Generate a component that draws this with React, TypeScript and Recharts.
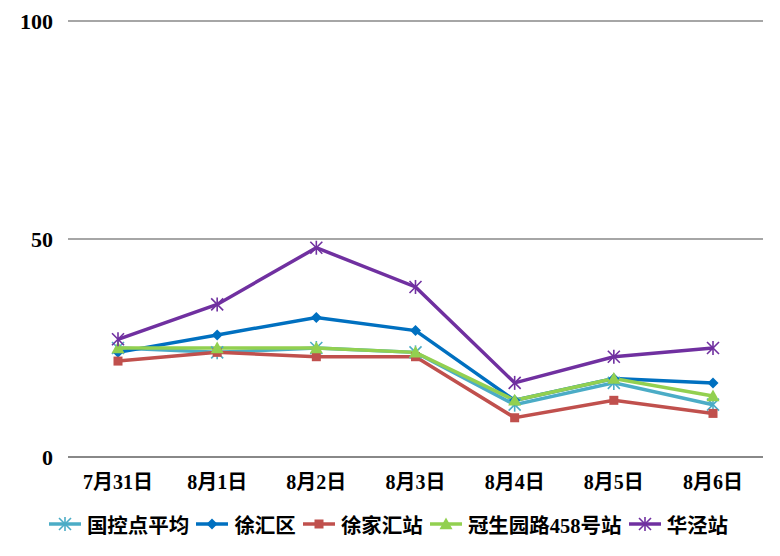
import {
  CartesianGrid,
  Legend,
  Line,
  LineChart,
  XAxis,
  YAxis,
} from "recharts";

const dates = ["7月31日", "8月1日", "8月2日", "8月3日", "8月4日", "8月5日", "8月6日"];
const avgValues = [25, 24, 25, 24, 12, 17, 12];
const xuhuiValues = [24, 28, 32, 29, 13, 18, 17];
const xujiahuiValues = [22, 24, 23, 23, 9, 13, 10];
const guanshengValues = [25, 25, 25, 24, 13, 18, 14];
const huajingValues = [27, 35, 48, 39, 17, 23, 25];
const yTicks = [0, 50, 100];

const FONT = "'Liberation Serif', 'Noto Sans CJK SC', serif";

const series = [
  { key: "avg", name: "国控点平均", color: "#4BACC6", shape: "star" },
  { key: "xuhui", name: "徐汇区", color: "#0070C0", shape: "diamond" },
  { key: "xujiahui", name: "徐家汇站", color: "#C0504D", shape: "square" },
  { key: "guansheng", name: "冠生园路458号站", color: "#92D050", shape: "triangle" },
  { key: "huajing", name: "华泾站", color: "#7030A0", shape: "star" },
];

const data = dates.map((d, i) => ({
  date: d,
  avg: avgValues[i],
  xuhui: xuhuiValues[i],
  xujiahui: xujiahuiValues[i],
  guansheng: guanshengValues[i],
  huajing: huajingValues[i],
}));

const Marker = ({ cx, cy, shape, color }: any) => {
  if (cx == null || cy == null) return null;
  if (shape === "star") {
    const r = 6;
    return (
      <g stroke={color} strokeWidth={1.6}>
        <line x1={cx - r} y1={cy - r} x2={cx + r} y2={cy + r} />
        <line x1={cx - r} y1={cy + r} x2={cx + r} y2={cy - r} />
        <line x1={cx} y1={cy - r - 1} x2={cx} y2={cy + r + 1} />
      </g>
    );
  }
  if (shape === "diamond") {
    const r = 5.5;
    return (
      <polygon
        points={`${cx},${cy - r} ${cx + r},${cy} ${cx},${cy + r} ${cx - r},${cy}`}
        fill={color}
      />
    );
  }
  if (shape === "square") {
    const r = 4.5;
    return <rect x={cx - r} y={cy - r} width={r * 2} height={r * 2} fill={color} />;
  }
  const r = 6.5;
  return (
    <polygon
      points={`${cx},${cy - r} ${cx + r},${cy + r * 0.8} ${cx - r},${cy + r * 0.8}`}
      fill={color}
    />
  );
};

const renderLegend = () => (
  <div
    style={{
      display: "flex",
      justifyContent: "center",
      alignItems: "center",
      height: 30,
      paddingLeft: 14,
      fontFamily: FONT,
      fontWeight: "bold",
      fontSize: 20.5,
      color: "#000",
    }}
  >
    {series.map((s, i) => (
      <div
        key={s.key}
        style={{ display: "flex", alignItems: "center", marginRight: i < series.length - 1 ? 7 : 0 }}
      >
        <svg width={32} height={20} style={{ marginRight: 6 }}>
          <line x1={0} y1={10} x2={32} y2={10} stroke={s.color} strokeWidth={3.5} />
          <Marker cx={16} cy={10} shape={s.shape} color={s.color} />
        </svg>
        <span>{s.name}</span>
      </div>
    ))}
  </div>
);

const App = () => {
  return (
    <div style={{ margin: -8, width: 780, height: 556, background: "#fff" }}>
      <LineChart
        width={780}
        height={556}
        data={data}
        margin={{ top: 21, right: 17, left: 0, bottom: 17 }}
      >
        <CartesianGrid vertical={false} stroke="#888" strokeWidth={1.5} />
        <XAxis
          dataKey="date"
          height={52}
          padding={{ left: 50, right: 50 }}
          axisLine={{ stroke: "#888", strokeWidth: 2 }}
          tickLine={false}
          tickMargin={12}
          tick={{ fill: "#000", fontFamily: FONT, fontWeight: "bold", fontSize: 20 }}
        />
        <YAxis
          width={68}
          domain={[0, 100]}
          ticks={yTicks}
          axisLine={false}
          tickLine={false}
          tickMargin={9}
          tick={{ fill: "#000", fontFamily: FONT, fontWeight: "bold", fontSize: 22 }}
        />
        <Legend verticalAlign="bottom" height={30} content={renderLegend} />
        {series.map((s) => (
          <Line
            key={s.key}
            dataKey={s.key}
            name={s.name}
            stroke={s.color}
            strokeWidth={3.5}
            isAnimationActive={false}
            dot={(p: any) => (
              <Marker key={`${s.key}-${p.index}`} cx={p.cx} cy={p.cy} shape={s.shape} color={s.color} />
            )}
            activeDot={false}
          />
        ))}
      </LineChart>
    </div>
  );
};

export default App;
